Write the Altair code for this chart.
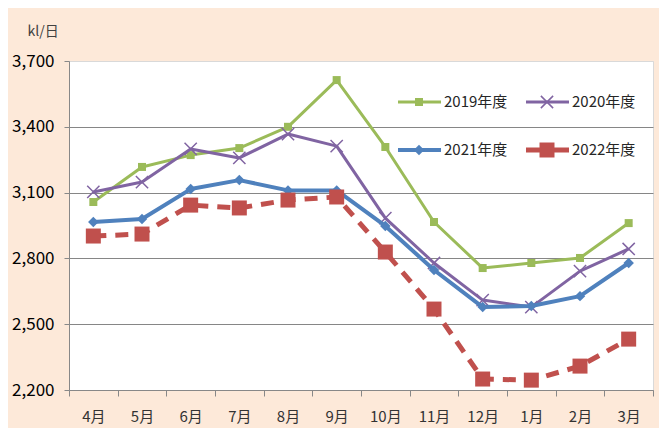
import altair as alt
import pandas as pd

months = ["4月", "5月", "6月", "7月", "8月", "9月", "10月", "11月", "12月", "1月", "2月", "3月"]
series = ["2019年度", "2020年度", "2021年度", "2022年度"]
v2019 = [3057, 3217, 3271, 3303, 3400, 3613, 3308, 2966, 2756, 2779, 2802, 2961]
v2020 = [3103, 3148, 3299, 3258, 3367, 3312, 2984, 2779, 2610, 2578, 2742, 2843]
v2021 = [2966, 2980, 3116, 3157, 3110, 3110, 2948, 2747, 2578, 2583, 2628, 2779]
v2022 = [2902, 2911, 3043, 3030, 3066, 3080, 2829, 2569, 2250, 2245, 2309, 2432]
y_ticks = [2200, 2500, 2800, 3100, 3400, 3700]
y_title = "kl/日"

values = [v2019, v2020, v2021, v2022]
rows = []
for s, vals in zip(series, values):
    for m, v in zip(months, vals):
        rows.append({"month": m, "series": s, "value": v})
df = pd.DataFrame(rows)

FONT = "Noto Sans CJK JP"
colors = ["#9BBB59", "#8064A2", "#4F81BD", "#C0504D"]
xshape = "M-1,-1L1,1M-1,1L1,-1"
styles = [
    dict(width=3, dash=None, shape="square", size=64, filled=True, sw=0),
    dict(width=3, dash=None, shape=xshape, size=150, filled=False, sw=1.5),
    dict(width=4, dash=None, shape="diamond", size=110, filled=True, sw=0),
    dict(width=5, dash=[13, 9], shape="square", size=225, filled=True, sw=0),
]

x_enc = alt.X("month:N", sort=months, title=None,
              scale=alt.Scale(paddingInner=0, paddingOuter=0),
              axis=alt.Axis(labelAngle=0, tickBand="extent", tickSize=6, tickColor="#888888",
                            domainColor="#888888", labelFont=FONT, labelFontSize=15,
                            labelColor="#333333", labelPadding=13, grid=False))
y_enc = alt.Y("value:Q", title=y_title,
              scale=alt.Scale(domain=[2200, 3700], nice=False, zero=False),
              axis=alt.Axis(values=y_ticks, format=",d", tickSize=5, tickColor="#888888",
                            domainColor="#888888", labelFont=FONT, labelFontSize=17,
                            labelColor="#000000", labelPadding=10,
                            gridColor={"condition": {"test": "datum.value === 3700", "value": "#D9D9D9"},
                                       "value": "#868686"},
                            gridWidth=1,
                            titleAngle=0, titleX=-42, titleY=-30, titleAlign="left",
                            titleBaseline="middle", titleFont=FONT, titleFontSize=14,
                            titleFontWeight="normal", titleColor="#404040"))

layers = []
for s, c, st in zip(series, colors, styles):
    base = alt.Chart(df).transform_filter(alt.datum.series == s)
    line_kwargs = dict(color=c, strokeWidth=st["width"], strokeJoin="round")
    if st["dash"]:
        line_kwargs["strokeDash"] = st["dash"]
    layers.append(base.mark_line(**line_kwargs).encode(x=x_enc, y=y_enc))
    pt_kwargs = dict(shape=st["shape"], size=st["size"], opacity=1, filled=st["filled"])
    if st["filled"]:
        pt_kwargs.update(fill=c, strokeWidth=0)
    else:
        pt_kwargs.update(stroke=c, strokeWidth=st["sw"])
    layers.append(base.mark_point(**pt_kwargs).encode(x=x_enc, y=y_enc))

# legend (two columns, drawn inside the plot area)
leg_pos = [(329, 41), (457, 41), (329, 89), (457, 89)]
for s, c, st, (lx, ly) in zip(series, colors, styles, leg_pos):
    one = alt.Data(values=[{"k": 1}])
    rk = dict(color=c, strokeWidth=st["width"])
    layers.append(alt.Chart(one).mark_rule(**rk).encode(
        x=alt.value(lx), x2=alt.value(lx + 43), y=alt.value(ly)))
    pt_kwargs = dict(shape=st["shape"], size=st["size"], opacity=1, filled=st["filled"])
    if st["filled"]:
        pt_kwargs.update(fill=c, strokeWidth=0)
    else:
        pt_kwargs.update(stroke=c, strokeWidth=st["sw"])
    layers.append(alt.Chart(one).mark_point(**pt_kwargs).encode(
        x=alt.value(lx + 21), y=alt.value(ly)))
    layers.append(alt.Chart(one).mark_text(align="left", baseline="middle", font=FONT,
                                          fontSize=15, color="#262626").encode(
        x=alt.value(lx + 46), y=alt.value(ly), text=alt.value(s)))

chart = alt.layer(*layers).properties(
    width=584, height=329,
    padding={"left": 61, "top": 53, "right": 6, "bottom": 38},
    autosize="none",
    background="#FDE9D9",
).configure_view(stroke="#D9D9D9", fill="white")

chart.save("out.html", embed_options={"renderer": "svg", "actions": False})
